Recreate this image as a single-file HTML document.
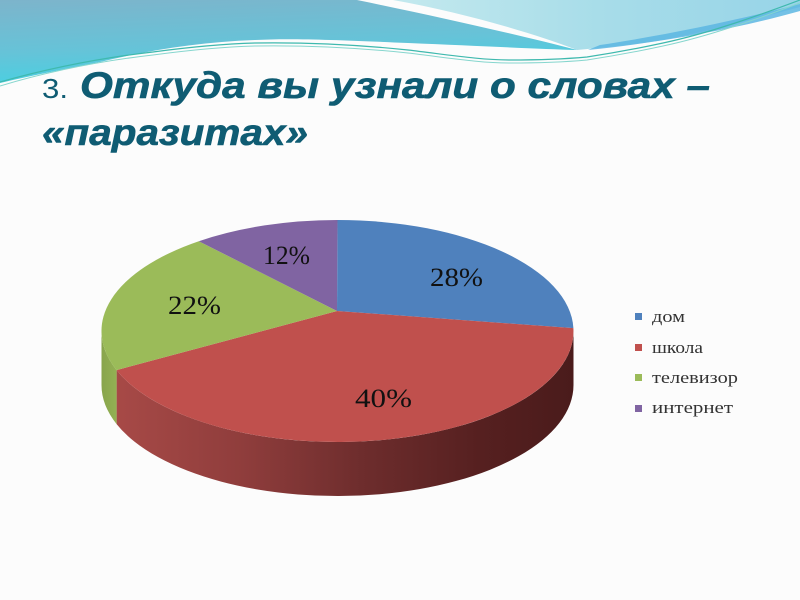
<!DOCTYPE html>
<html>
<head>
<meta charset="utf-8">
<style>
  html,body{margin:0;padding:0;background:#fcfcfc;}
  body{width:800px;height:600px;overflow:hidden;}
  svg{display:block;}
</style>
</head>
<body>
<svg width="800" height="600" viewBox="0 0 800 600" xmlns="http://www.w3.org/2000/svg">
  <defs>
    <linearGradient id="gLeft" x1="0" y1="0" x2="0.25" y2="1">
      <stop offset="0" stop-color="#7db4cb"/>
      <stop offset="0.6" stop-color="#66c3d8"/>
      <stop offset="1" stop-color="#48d0e2"/>
    </linearGradient>
    <linearGradient id="gRight" x1="0" y1="0" x2="1" y2="0">
      <stop offset="0" stop-color="#c4e9ee"/>
      <stop offset="0.5" stop-color="#a8dde9"/>
      <stop offset="1" stop-color="#97d4e8"/>
    </linearGradient>
    <linearGradient id="gRedSide" gradientUnits="userSpaceOnUse" x1="101" y1="0" x2="574" y2="0">
      <stop offset="0" stop-color="#aa4b48"/>
      <stop offset="0.3" stop-color="#8f3d3c"/>
      <stop offset="0.55" stop-color="#6e2d2d"/>
      <stop offset="0.8" stop-color="#562020"/>
      <stop offset="1" stop-color="#4a1b1b"/>
    </linearGradient>
    <linearGradient id="gGreenSide" gradientUnits="userSpaceOnUse" x1="101" y1="0" x2="118" y2="0">
      <stop offset="0" stop-color="#88a44c"/>
      <stop offset="1" stop-color="#94b254"/>
    </linearGradient>
  </defs>

  <!-- header decoration -->
  <path d="M0,0 L357,0 C430,15 520,35 577,50 C540,49 480,46 408,43 C340,40 290,38 255,40 C200,42 150,50 100,62 C60,70 30,76 0,83 Z" fill="url(#gLeft)"/>
  <path d="M393,0 C460,12 530,32 577,50 C610,47 640,44 663,40 C700,33 750,20 800,7 L800,0 Z" fill="url(#gRight)"/>
  <path d="M600,45 C660,36 730,22 800,4 L800,11 C740,28 665,42 588,50 Z" fill="#5cb6e2" opacity="0.85"/>
  <path d="M0,82 C50,68 100,58 153,52 C190,47 220,44 255,43 C320,42 370,46 408,50 C450,55 480,60 510,60 C545,60 565,59 587,57 C620,52 640,48 663,43 C710,33 760,15 800,0" fill="none" stroke="#3fb9ae" stroke-width="1.2"/>
  <path d="M0,86 C50,71 100,61 153,55 C190,50 220,47 255,46 C320,45 370,49 408,53 C450,58 480,63 510,63 C545,63 565,62 587,60 C620,55 640,51 663,46 C710,36 760,18 800,3" fill="none" stroke="#86d6ce" stroke-width="1"/>

  <!-- title -->
  <g fill="#0f5c73">
    <text x="42" y="98" font-family="Liberation Sans, sans-serif" font-size="28" textLength="26" lengthAdjust="spacingAndGlyphs">3.</text>
    <g stroke="#0f5c73" stroke-width="0.6">
      <text x="80" y="98" font-family="Liberation Sans, sans-serif" font-size="37" font-weight="bold" font-style="italic" textLength="630" lengthAdjust="spacingAndGlyphs">Откуда вы узнали о словах –</text>
      <text x="42" y="145" font-family="Liberation Sans, sans-serif" font-size="37" font-weight="bold" font-style="italic" textLength="266" lengthAdjust="spacingAndGlyphs">«паразитах»</text>
    </g>
  </g>

  <!-- pie sides -->
  <path d="M573.5,331 A236,111 0 0,1 116.6,370.1 L116.6,424.1 A236,111 0 0,0 573.5,385 Z" fill="url(#gRedSide)"/>
  <path d="M116.6,370.1 A236,111 0 0,1 101.5,331 L101.5,385 A236,111 0 0,0 116.6,424.1 Z" fill="url(#gGreenSide)"/>

  <!-- pie top faces -->
  <path d="M337,311 L337.5,220 A236,111 0 0,1 573.4,328.1 Z" fill="#4f81bd"/>
  <path d="M337,311 L573.4,328.1 A236,111 0 0,1 116.6,370.1 Z" fill="#c0504d"/>
  <path d="M337,311 L116.6,370.1 A236,111 0 0,1 198.8,241.2 Z" fill="#9bbb59"/>
  <path d="M337,311 L198.8,241.2 A236,111 0 0,1 337.5,220 Z" fill="#8064a2"/>

  <!-- data labels -->
  <g fill="#111" font-family="Liberation Serif, serif" font-size="26">
    <text x="430" y="286" textLength="53" lengthAdjust="spacingAndGlyphs">28%</text>
    <text x="355" y="407" textLength="57" lengthAdjust="spacingAndGlyphs">40%</text>
    <text x="168" y="314" textLength="53" lengthAdjust="spacingAndGlyphs">22%</text>
    <text x="263" y="264" textLength="47" lengthAdjust="spacingAndGlyphs">12%</text>
  </g>

  <!-- legend -->
  <rect x="635" y="313" width="7" height="7" fill="#4f81bd"/>
  <rect x="635" y="344" width="7" height="7" fill="#c0504d"/>
  <rect x="635" y="374" width="7" height="7" fill="#9bbb59"/>
  <rect x="635" y="405" width="7" height="7" fill="#8064a2"/>
  <g fill="#333" font-family="Liberation Serif, serif" font-size="17">
    <text x="652" y="322" textLength="33" lengthAdjust="spacingAndGlyphs">дом</text>
    <text x="652" y="353" textLength="51" lengthAdjust="spacingAndGlyphs">школа</text>
    <text x="652" y="383" textLength="86" lengthAdjust="spacingAndGlyphs">телевизор</text>
    <text x="652" y="413" textLength="81" lengthAdjust="spacingAndGlyphs">интернет</text>
  </g>
</svg>
</body>
</html>
